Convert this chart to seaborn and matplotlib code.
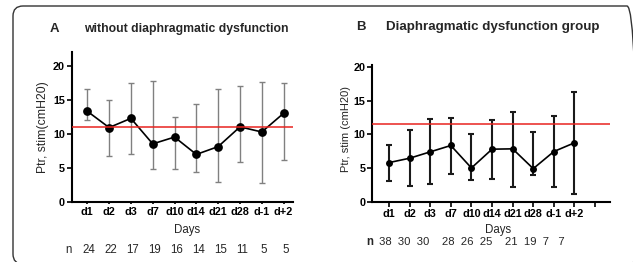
import matplotlib
matplotlib.use("Agg")
import matplotlib.pyplot as plt
import matplotlib.transforms as mtransforms
from matplotlib.patches import FancyBboxPatch
import numpy as np
import pandas as pd
import seaborn as sns

days = ["d1", "d2", "d3", "d7", "d10", "d14", "d21", "d28", "d-1", "d+2"]

a_mean = [13.3, 10.9, 12.25, 8.5, 9.5, 6.95, 8.1, 11.0, 10.25, 13.0]
a_upper = [16.5, 14.95, 17.5, 17.7, 12.5, 14.3, 16.6, 17.0, 17.6, 17.5]
a_lower = [12.0, 6.7, 7.0, 4.85, 4.85, 4.4, 2.9, 5.9, 2.8, 6.1]
a_n = ["24", "22", "17", "19", "16", "14", "15", "11", "5", "5"]
a_ref = 11.0

b_mean = [5.8, 6.45, 7.4, 8.35, 5.0, 7.8, 7.85, 4.9, 7.45, 8.75]
b_upper = [8.4, 10.7, 12.3, 12.5, 10.05, 12.2, 13.4, 10.3, 12.7, 16.3]
b_lower = [3.05, 2.27, 2.57, 4.1, 3.25, 3.35, 2.2, 3.95, 2.15, 1.1]
b_n = ["38", "30", "30", "28", "26", "25", "21", "19", "7", "7"]
b_ref = 11.55

sns.set_theme(style="ticks")
plt.rcParams["font.family"] = ["Liberation Sans", "DejaVu Sans"]

W, H = 633, 262
fig = plt.figure(figsize=(W / 100, H / 100), dpi=100)

def px_axes(l, r, t, b):
    return fig.add_axes([l / W, 1 - b / H, (r - l) / W, (b - t) / H])

axA = px_axes(72, 293, 51.7, 201.7)
axB = px_axes(372.3, 609.7, 65, 201.5)

red = "#e8231f"

def draw(ax, mean, lo, hi, ref, ecolor, elw, ms, cap, xlim, ylim, ntick, xticklen):
    x = np.arange(len(days))
    df = pd.DataFrame({"x": x, "y": mean})
    mean_a = np.array(mean)
    yerr = np.vstack([mean_a - np.array(lo), np.array(hi) - mean_a])
    ax.errorbar(x, mean_a, yerr=yerr, fmt="none", ecolor=ecolor, elinewidth=elw,
                capsize=cap, capthick=elw, zorder=2)
    sns.lineplot(data=df, x="x", y="y", ax=ax, color="black", linewidth=1.2,
                 marker="o", markersize=ms, markeredgewidth=0, zorder=3)
    ax.axhline(ref, color=red, linewidth=1.1, zorder=4)
    ax.set_xlim(*xlim)
    ax.set_ylim(*ylim)
    ax.set_xticks(np.arange(ntick))
    ax.set_xticklabels(days + [""] * (ntick - len(days)), fontsize=7.8, fontweight="bold")
    ax.set_yticks([0, 5, 10, 15, 20])
    ax.set_yticklabels(["0", "5", "10", "15", "20"], fontsize=7.8, fontweight="bold")
    ax.tick_params(axis="x", length=xticklen, width=1.2, pad=2, colors="black")
    ax.tick_params(axis="y", length=3.5, width=1.2, pad=1.5, colors="black")
    for s in ["top", "right"]:
        ax.spines[s].set_visible(False)
    for s in ["left", "bottom"]:
        ax.spines[s].set_linewidth(1.5)
        ax.spines[s].set_color("black")
    ax.set_xlabel("")
    ax.set_ylabel("")
    ax.set_facecolor("white")

draw(axA, a_mean, a_lower, a_upper, a_ref, "#808080", 1.0, 6.3, 2.2, (-0.7, 9.43), (0, 22.05), 10, 1.5)
draw(axB, b_mean, b_lower, b_upper, b_ref, "#1a1a1a", 1.5, 5, 2.3, (-0.81, 10.71), (0, 20.35), 11, 3.5)

# axis labels
fig.text(43 / W, 1 - 126.7 / H, "Ptr, stim(cmH20)", rotation=90, ha="center", va="center", fontsize=8.8)
fig.text(346 / W, 1 - 129 / H, "Ptr, stim (cmH20)", rotation=90, ha="center", va="center", fontsize=8)
fig.text(187 / W, 1 - 230 / H, "Days", ha="center", va="center", fontsize=8.3)
fig.text(498 / W, 1 - 230 / H, "Days", ha="center", va="center", fontsize=8.3)

# titles
fig.text(50 / W, 1 - 29 / H, "A", ha="left", va="center", fontsize=9.5, fontweight="bold")
fig.text(84 / W, 1 - 29 / H, "without diaphragmatic dysfunction", ha="left", va="center",
         fontsize=8.8, fontweight="bold")
fig.text(356 / W, 1 - 27 / H, "B", ha="left", va="center", fontsize=9.5, fontweight="bold")
fig.text(386 / W, 1 - 27 / H, "Diaphragmatic dysfunction group", ha="left", va="center",
         fontsize=9.65, fontweight="bold")

# n rows
transA = mtransforms.blended_transform_factory(axA.transData, fig.transFigure)
fig.text(68 / W, 1 - 250 / H, "n", ha="center", va="center", fontsize=8.3)
for i, s in enumerate(a_n):
    fig.text(i, 1 - 250 / H, s, transform=transA + mtransforms.ScaledTranslation(2 / 100, 0, fig.dpi_scale_trans),
             ha="center", va="center", fontsize=8.3)

fig.text(369.7 / W, 1 - 242 / H, "n", ha="center", va="center", fontsize=8.3, fontweight="bold")
fig.text(376 / W, 1 - 242 / H, " " + "  ".join(b_n[:3]) + "    " + "  ".join(b_n[3:6]) + "    "
         + "  ".join(b_n[6:8]) + "  " + b_n[8] + "   " + b_n[9],
         ha="left", va="center", fontsize=8.1)

# card frame
box = FancyBboxPatch((13, -2), 624, 258, boxstyle="round,pad=0,rounding_size=10",
                     transform=mtransforms.IdentityTransform(), fill=False,
                     edgecolor="#333333", linewidth=1.0)
fig.add_artist(box)

fig.savefig("out.png", dpi=100, facecolor="white")
